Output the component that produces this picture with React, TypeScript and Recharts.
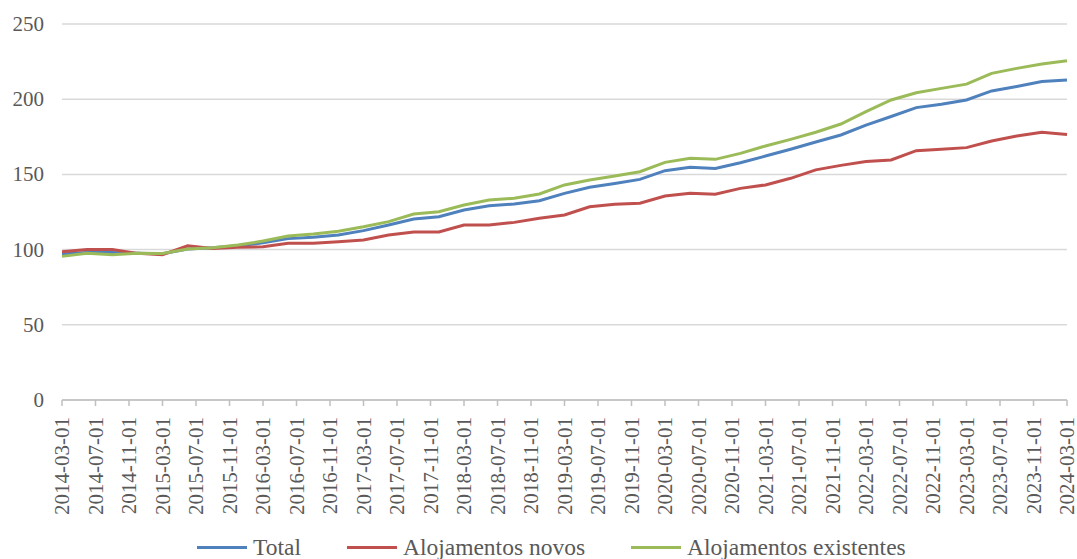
import { LineChart, Line, XAxis, YAxis, CartesianGrid, Legend } from 'recharts';

// quarterly observations
const quarters = [
  '2014-03-01', '2014-06-01', '2014-09-01', '2014-12-01',
  '2015-03-01', '2015-06-01', '2015-09-01', '2015-12-01',
  '2016-03-01', '2016-06-01', '2016-09-01', '2016-12-01',
  '2017-03-01', '2017-06-01', '2017-09-01', '2017-12-01',
  '2018-03-01', '2018-06-01', '2018-09-01', '2018-12-01',
  '2019-03-01', '2019-06-01', '2019-09-01', '2019-12-01',
  '2020-03-01', '2020-06-01', '2020-09-01', '2020-12-01',
  '2021-03-01', '2021-06-01', '2021-09-01', '2021-12-01',
  '2022-03-01', '2022-06-01', '2022-09-01', '2022-12-01',
  '2023-03-01', '2023-06-01', '2023-09-01', '2023-12-01',
  '2024-03-01',
];

const total = [
  97, 98, 98, 97.5, 97.3, 100.4, 101.2, 102.5, 104.5, 107.3,
  108.2, 109.7, 112.6, 116.4, 120.3, 121.9, 126.3, 129.2, 130.3, 132.5,
  137.4, 141.4, 144, 146.7, 152.5, 154.7, 154, 157.8, 162.2, 166.7,
  171.5, 176.2, 182.8, 188.5, 194.4, 196.6, 199.5, 205.5, 208.5, 211.7,
  212.8,
];

const novos = [
  98.5, 100, 100, 97.5, 96.6, 102.5, 100.8, 101.5, 101.9, 104.2,
  104.2, 105.3, 106.4, 109.7, 111.7, 111.7, 116.4, 116.4, 118.1, 120.8,
  123, 128.5, 130.1, 130.8, 135.6, 137.4, 136.8, 140.7, 143, 147.4,
  153, 156, 158.5, 159.6, 165.8, 166.7, 167.8, 172.2, 175.5, 178,
  176.6,
];

const existentes = [
  95.5, 97.5, 96.6, 97.6, 97.4, 100.4, 101.2, 103, 105.7, 109,
  110.4, 112.2, 115.2, 118.6, 123.7, 125.2, 129.7, 133, 134.1, 137,
  143, 146.3, 149, 151.8, 158, 160.7, 160, 164, 168.9, 173.3,
  178, 183.5, 191.7, 199.5, 204.3, 207.2, 210, 217.2, 220.5, 223.4,
  225.6,
];

const tickLabels = [
  '2014-03-01', '2014-07-01', '2014-11-01', '2015-03-01', '2015-07-01',
  '2015-11-01', '2016-03-01', '2016-07-01', '2016-11-01', '2017-03-01',
  '2017-07-01', '2017-11-01', '2018-03-01', '2018-07-01', '2018-11-01',
  '2019-03-01', '2019-07-01', '2019-11-01', '2020-03-01', '2020-07-01',
  '2020-11-01', '2021-03-01', '2021-07-01', '2021-11-01', '2022-03-01',
  '2022-07-01', '2022-11-01', '2023-03-01', '2023-07-01', '2023-11-01',
  '2024-03-01',
];

const yTicks = [0, 50, 100, 150, 200, 250];

const series = [
  { key: 'total', name: 'Total', color: '#4F81BD' },
  { key: 'novos', name: 'Alojamentos novos', color: '#C0504D' },
  { key: 'existentes', name: 'Alojamentos existentes', color: '#9BBB59' },
];

// months since the first date, so the axis behaves like a date axis
const monthIndex = (d: string) => {
  const [y, m] = d.split('-').map(Number);
  return (y - 2014) * 12 + (m - 3);
};

const data = quarters.map((d, i) => ({
  m: monthIndex(d),
  total: total[i],
  novos: novos[i],
  existentes: existentes[i],
}));

const xTicks = tickLabels.map(monthIndex);
const labelFor = new Map(tickLabels.map((d) => [monthIndex(d), d]));

const FONT = '"Liberation Serif", "Times New Roman", serif';
const TEXT = '#595959';

function XTick({ x, y, payload }: any) {
  return (
    <text
      x={x}
      y={y + 9}
      transform={`rotate(-90, ${x}, ${y + 9})`}
      textAnchor="end"
      dominantBaseline="central"
      fill={TEXT}
      fontFamily={FONT}
      fontSize={21}
    >
      {labelFor.get(payload.value)}
    </text>
  );
}

function YTick({ y, payload }: any) {
  return (
    <text
      x={44}
      y={y}
      textAnchor="end"
      dominantBaseline="central"
      fill={TEXT}
      fontFamily={FONT}
      fontSize={21}
    >
      {payload.value}
    </text>
  );
}

function LegendContent() {
  return (
    <div
      style={{
        height: 24,
        display: 'flex',
        alignItems: 'center',
        paddingLeft: 197,
        fontFamily: FONT,
        fontSize: 23.5,
        color: TEXT,
        whiteSpace: 'nowrap',
      }}
    >
      {series.map((s) => (
        <div key={s.key} style={{ display: 'flex', alignItems: 'center', marginRight: 46 }}>
          <span style={{ width: 50, height: 3, background: s.color, marginRight: 6 }} />
          <span style={{ lineHeight: '24px' }}>{s.name}</span>
        </div>
      ))}
    </div>
  );
}

export default function App() {
  return (
    <div style={{ position: 'absolute', left: 0, top: 0, width: 1077, height: 559, background: '#fff' }}>
      <LineChart width={1077} height={559} data={data} margin={{ top: 24, right: 10, left: 0, bottom: 0 }}>
        <CartesianGrid vertical={false} stroke="#D9D9D9" strokeWidth={1.5} />
        <XAxis
          dataKey="m"
          type="number"
          domain={[0, 120]}
          ticks={xTicks}
          interval={0}
          height={135}
          tick={<XTick />}
          axisLine={{ stroke: '#BFBFBF', strokeWidth: 1.5 }}
          tickLine={{ stroke: '#BFBFBF', strokeWidth: 1.5 }}
          tickSize={6}
        />
        <YAxis
          domain={[0, 250]}
          ticks={yTicks}
          width={62}
          axisLine={false}
          tickLine={false}
          tick={<YTick />}
        />
        <Legend verticalAlign="bottom" content={<LegendContent />} />
        {series.map((s) => (
          <Line
            key={s.key}
            type="linear"
            dataKey={s.key}
            name={s.name}
            stroke={s.color}
            strokeWidth={3}
            dot={false}
            isAnimationActive={false}
          />
        ))}
      </LineChart>
    </div>
  );
}
